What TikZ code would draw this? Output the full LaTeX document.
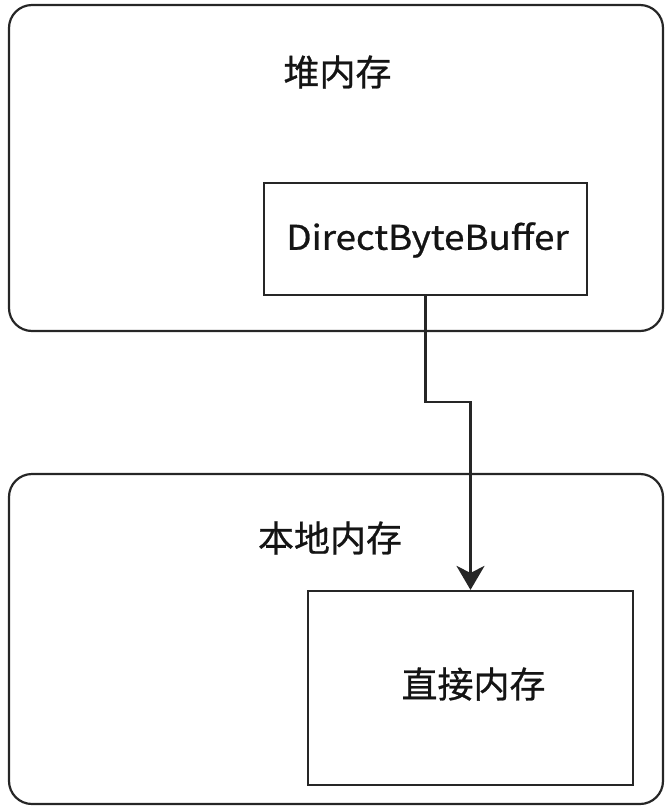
\documentclass[tikz,border=0pt]{standalone}
\usepackage{fontspec}
\setmainfont{Noto Sans CJK SC}
\newfontfamily\cjk[AutoFakeBold=0.7]{Noto Sans CJK SC}
\usetikzlibrary{arrows.meta}
\definecolor{ln}{HTML}{262626}
\definecolor{tx}{HTML}{141414}
\tikzset{
  region/.style={draw=ln, line width=2.2pt, rounded corners=23pt, inner sep=0pt},
  inbox/.style={draw=ln, line width=2.2pt, inner sep=0pt},
  cjklabel/.style={text=tx, font=\cjk\bfseries\fontsize{36}{40}\selectfont, inner sep=0pt},
  latlabel/.style={text=tx, font=\cjk\bfseries\fontsize{34}{40}\selectfont, inner sep=0pt},
  conn/.style={draw=ln, line width=2.2pt, -{Stealth[length=24pt,width=28pt,inset=7pt]}}
}
\begin{document}
\begin{tikzpicture}[x=1pt,y=-1pt]
\useasboundingbox (0,0) rectangle (671,812);
\node[region, minimum width=654pt, minimum height=326pt] (heap) at (336,168) {};
\node[region, minimum width=654pt, minimum height=330pt] (native) at (336,639) {};
\node[cjklabel] (heaplbl) at (337.5,72) {堆内存};
\node[cjklabel] (nativelbl) at (330,538) {本地内存};
\node[inbox, minimum width=323pt, minimum height=112pt] (dbb) at (425.5,239) {};
\node[latlabel] (dbbtxt) at (427.5,240) {\scalebox{1.08}[1]{DirectByteBuffer}};
\node[inbox, minimum width=325pt, minimum height=194pt] (direct) at (470.5,688) {};
\node[cjklabel] (directlbl) at (473.5,684) {直接内存};
\coordinate (mid) at (470.5,402);
\draw[conn] (dbb.south) |- (mid) -- (direct.north);
\end{tikzpicture}
\end{document}
